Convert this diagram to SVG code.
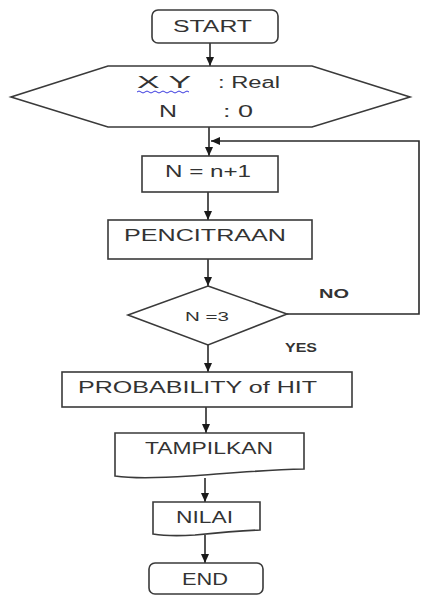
<svg xmlns="http://www.w3.org/2000/svg" width="422" height="596" viewBox="0 0 422 596">
<defs>
<style>
.s{fill:#fff;stroke:#3a3a3a;stroke-width:1.6}
.c{fill:none;stroke:#2a2a2a;stroke-width:1.6}
.t{font-family:"Liberation Sans",Arial,sans-serif;font-size:16px;fill:#333}
.m{font-family:"Liberation Sans",Arial,sans-serif;font-size:13px;fill:#333;font-weight:bold}
</style>
<marker id="ah" markerWidth="10" markerHeight="10" refX="9" refY="5" orient="auto" markerUnits="userSpaceOnUse">
<path d="M0,1 L9,5 L0,9 Z" fill="#1a1a1a"/>
</marker>
</defs>
<rect width="422" height="596" fill="#fff"/>
<g id="connectors">
<path class="c" d="M210,43 V66" marker-end="url(#ah)"/>
<path class="c" d="M209,127 V156" marker-end="url(#ah)"/>
<path class="c" d="M287,314 H419 V141 H211" marker-end="url(#ah)"/>
<path class="c" d="M208,192 V220" marker-end="url(#ah)"/>
<path class="c" d="M208,259 V286" marker-end="url(#ah)"/>
<path class="c" d="M208,345 V372" marker-end="url(#ah)"/>
<path class="c" d="M206,407 V433" marker-end="url(#ah)"/>
<path class="c" d="M205,478 V502" marker-end="url(#ah)"/>
<path class="c" d="M205,535 V563" marker-end="url(#ah)"/>
</g>
<g id="start">
<rect class="s" x="152" y="10" width="126" height="33" rx="6"/>
<text class="t" x="173" y="32" textLength="79" lengthAdjust="spacingAndGlyphs">START</text>
</g>
<g id="declare">
<path class="s" d="M108,66 H312 L410,97 L312,127 H108 L11,97 Z"/>
<text class="t" x="137" y="88" textLength="54" lengthAdjust="spacingAndGlyphs">X  Y</text>
<path d="M137,92 q2,-2 4,0 t4,0 t4,0 t4,0 t4,0 t4,0 t4,0 t4,0 t4,0 t4,0 t4,0 t4,0 t4,0" fill="none" stroke="#3a3adf" stroke-width="1"/>
<text class="t" x="218" y="88" textLength="62" lengthAdjust="spacingAndGlyphs">: Real</text>
<text class="t" x="159" y="117" textLength="18" lengthAdjust="spacingAndGlyphs">N</text>
<text class="t" x="223" y="117" textLength="30" lengthAdjust="spacingAndGlyphs">: 0</text>
</g>
<g id="increment">
<rect class="s" x="142" y="156" width="136" height="36"/>
<text class="t" x="165" y="177" textLength="86" lengthAdjust="spacingAndGlyphs">N = n+1</text>
</g>
<g id="pencitraan">
<rect class="s" x="108" y="220" width="204" height="39"/>
<text class="t" x="124" y="241" textLength="162" lengthAdjust="spacingAndGlyphs">PENCITRAAN</text>
</g>
<g id="decision">
<path class="s" d="M208,286 L287,314 L208,345 L128,315 Z"/>
<text class="t" style="font-size:12.5px" x="185" y="321" textLength="44" lengthAdjust="spacingAndGlyphs">N =3</text>
<text class="m" x="319" y="298" textLength="30" lengthAdjust="spacingAndGlyphs">NO</text>
<text class="m" x="285" y="352" textLength="32" lengthAdjust="spacingAndGlyphs">YES</text>
</g>
<g id="probability">
<rect class="s" x="62" y="372" width="290" height="35"/>
<text class="t" x="78" y="393" textLength="239" lengthAdjust="spacingAndGlyphs">PROBABILITY of HIT</text>
</g>
<g id="tampilkan">
<path class="s" d="M115,433 H304 V469 C260,470 220,474 190,476 C160,478 135,479 115,476 Z"/>
<text class="t" x="145" y="454" textLength="128" lengthAdjust="spacingAndGlyphs">TAMPILKAN</text>
</g>
<g id="nilai">
<path class="s" d="M153,502 H260 V530 C235,531 215,533 195,535 C180,536 165,536 153,534 Z"/>
<text class="t" x="176" y="523" textLength="57" lengthAdjust="spacingAndGlyphs">NILAI</text>
</g>
<g id="end">
<rect class="s" x="149" y="563" width="114" height="31" rx="6"/>
<text class="t" x="182" y="585" textLength="46" lengthAdjust="spacingAndGlyphs">END</text>
</g>
</svg>
